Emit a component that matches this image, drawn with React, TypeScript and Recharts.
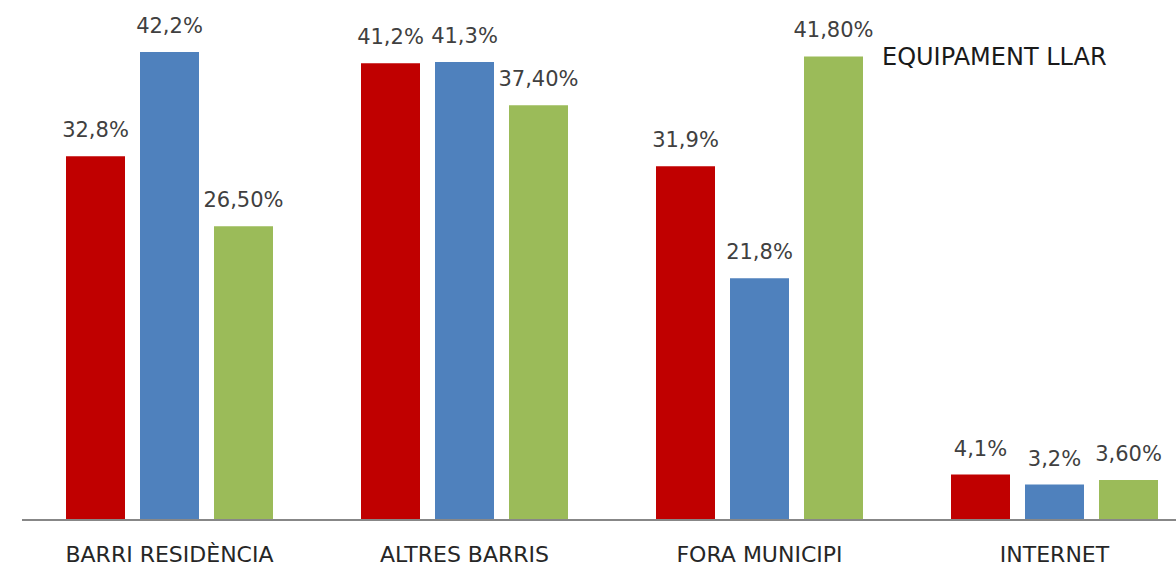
import { BarChart, Bar, XAxis, YAxis, LabelList } from "recharts";

const categories = ["BARRI RESIDÈNCIA", "ALTRES BARRIS", "FORA MUNICIPI", "INTERNET"];
const seriesA = [32.8, 41.2, 31.9, 4.1];
const seriesB = [42.2, 41.3, 21.8, 3.2];
const seriesC = [26.5, 37.4, 41.8, 3.6];

const RED = "#C00000";
const BLUE = "#4F81BD";
const GREEN = "#9BBB59";
const FONT = "'DejaVu Sans', sans-serif";

const data = categories.map((name, i) => ({
  name,
  a: seriesA[i],
  b: seriesB[i],
  c: seriesC[i],
}));

const fmt1 = (v: any) => `${Number(v).toFixed(1).replace(".", ",")}%`;
const fmt2 = (v: any) => `${Number(v).toFixed(2).replace(".", ",")}%`;

const labelStyle = { fill: "#404040", fontSize: 21, fontFamily: FONT };

export default function App() {
  return (
    <div
      style={{
        position: "absolute",
        left: 0,
        top: 0,
        width: 1176,
        height: 567,
        overflow: "hidden",
        background: "#fff",
      }}
    >
      <BarChart
        width={1202}
        height={567}
        data={data}
        margin={{ top: 21, right: 0, left: 22, bottom: 0 }}
        barSize={59}
        barGap={15}
      >
        <XAxis
          dataKey="name"
          height={47}
          axisLine={{ stroke: "#878787", strokeWidth: 2 }}
          tickLine={false}
          tickMargin={20}
          tick={{ fill: "#262626", fontSize: 22, fontFamily: FONT }}
          interval={0}
        />
        <YAxis hide domain={[0, 45]} />
        <Bar dataKey="a" fill={RED} isAnimationActive={false}>
          <LabelList dataKey="a" position="top" offset={19} formatter={fmt1} style={labelStyle} />
        </Bar>
        <Bar dataKey="b" fill={BLUE} isAnimationActive={false}>
          <LabelList dataKey="b" position="top" offset={19} formatter={fmt1} style={labelStyle} />
        </Bar>
        <Bar dataKey="c" fill={GREEN} isAnimationActive={false}>
          <LabelList dataKey="c" position="top" offset={19} formatter={fmt2} style={labelStyle} />
        </Bar>
      </BarChart>
      <div
        style={{
          position: "absolute",
          left: 882,
          top: 43,
          fontFamily: FONT,
          fontSize: 24,
          color: "#1a1a1a",
          whiteSpace: "nowrap",
          lineHeight: "28px",
        }}
      >
        EQUIPAMENT LLAR
      </div>
    </div>
  );
}
